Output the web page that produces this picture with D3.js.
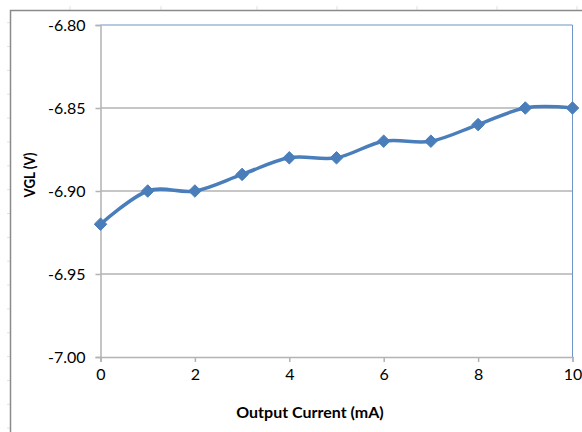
<!DOCTYPE html>
<html>
<head>
<meta charset="utf-8">
<script src="https://cdn.jsdelivr.net/npm/d3@7"></script>
<style>
  html, body { margin: 0; padding: 0; background: #fff; }
  svg { display: block; }
  text { font-family: Lato, "Open Sans", sans-serif; fill: #000; }
</style>
</head>
<body>
<svg id="chart" width="582" height="432"></svg>
<script>
// Output current sweep (mA) and measured VGL (V)
const currents = [0, 1, 2, 3, 4, 5, 6, 7, 8, 9, 10];
const vgl = [-6.92, -6.90, -6.90, -6.89, -6.88, -6.88, -6.87, -6.87, -6.86, -6.85, -6.85];
const xTicks = [0, 2, 4, 6, 8, 10];
const yTicks = [-7.00, -6.95, -6.90, -6.85, -6.80];
const xTitle = "Output Current (mA)";
const yTitle = "VGL (V)";

const svg = d3.select("#chart");
const W = 582, H = 432;

// faint worksheet cell-line stubs behind the chart frame
const colStubs = [70, 161, 257, 337, 417, 497, 577];
svg.append("g").selectAll("line").data(colStubs).join("line")
  .attr("x1", d => d).attr("x2", d => d).attr("y1", 6).attr("y2", 10)
  .attr("stroke", "#e2e2e2").attr("stroke-width", 1);
const rowStubs = d3.range(0, 18).map(i => 22.7 + i * 23.85).filter(v => v < H);
svg.append("g").selectAll("line").data(rowStubs).join("line")
  .attr("x1", 7).attr("x2", 10).attr("y1", d => d).attr("y2", d => d)
  .attr("stroke", "#e2e2e2").attr("stroke-width", 1);

// chart frame
svg.append("path")
  .attr("d", `M10.5,${H} V10.5 H${W}`)
  .attr("fill", "none").attr("stroke", "#8a8a8a").attr("stroke-width", 1.5);

const plot = { left: 100.5, right: 572.5, top: 25, bottom: 357 };

const x = d3.scaleLinear().domain([0, 10]).range([plot.left, plot.right]);
const y = d3.scaleLinear().domain([-7.00, -6.80]).range([plot.bottom, plot.top]);

// plain hyphen-minus for negative labels
const fmtY = d => d.toFixed(2);

// horizontal gridlines
svg.append("g").selectAll("line").data(yTicks.slice(1, -1)).join("line")
  .attr("x1", plot.left).attr("x2", plot.right)
  .attr("y1", d => y(d)).attr("y2", d => y(d))
  .attr("stroke", "#b3b3b3").attr("stroke-width", 1.5);

// plot area border (top and right)
svg.append("path")
  .attr("d", `M${plot.left},${y(-6.80)} H${plot.right} V${plot.bottom}`)
  .attr("fill", "none").attr("stroke", "#6f95c8").attr("stroke-width", 1);

// y axis
const yAxis = svg.append("g")
  .attr("transform", `translate(${plot.left},0)`)
  .call(d3.axisLeft(y).tickValues(yTicks).tickFormat(fmtY).tickSize(5).tickPadding(10));
yAxis.select(".domain").attr("stroke", "#b3b3b3").attr("stroke-width", 1.5);
yAxis.selectAll(".tick line").attr("stroke", "#b3b3b3").attr("stroke-width", 1.5);
yAxis.selectAll(".tick text")
  .style("font-family", "Lato, sans-serif").style("font-size", "16px").attr("fill", "#000");

// x axis
const xAxis = svg.append("g")
  .attr("transform", `translate(0,${plot.bottom})`)
  .call(d3.axisBottom(x).tickValues(xTicks).tickFormat(d3.format("d")).tickSize(5).tickPadding(7));
xAxis.select(".domain").attr("stroke", "#b3b3b3").attr("stroke-width", 1.5);
xAxis.selectAll(".tick line").attr("stroke", "#b3b3b3").attr("stroke-width", 1.5);
xAxis.selectAll(".tick text")
  .style("font-family", "Lato, sans-serif").style("font-size", "16px").attr("fill", "#000");

// series
const pts = currents.map((c, i) => [c, vgl[i]]);
const line = d3.line()
  .x(d => x(d[0])).y(d => y(d[1]))
  .curve(d3.curveCardinal.tension(0));
svg.append("path")
  .datum(pts)
  .attr("d", line)
  .attr("fill", "none").attr("stroke", "#4a7ebb")
  .attr("stroke-width", 3.5).attr("stroke-linejoin", "round").attr("stroke-linecap", "round");

const diamond = d3.symbol().type(d3.symbolDiamond2).size(100);
svg.append("g").selectAll("path").data(pts).join("path")
  .attr("transform", d => `translate(${x(d[0])},${y(d[1])})`)
  .attr("d", diamond)
  .attr("fill", "#4a7ebb").attr("stroke", "#4a7ebb").attr("stroke-width", 1);

// axis titles
svg.append("text")
  .attr("x", 310).attr("y", 418)
  .attr("text-anchor", "middle")
  .style("font-weight", "bold").style("font-size", "16px")
  .text(xTitle);

svg.append("text")
  .attr("transform", `translate(35,175) rotate(-90)`)
  .attr("text-anchor", "middle")
  .attr("textLength", 45).attr("lengthAdjust", "spacingAndGlyphs")
  .style("font-weight", "bold").style("font-size", "16px")
  .text(yTitle);
</script>
</body>
</html>
